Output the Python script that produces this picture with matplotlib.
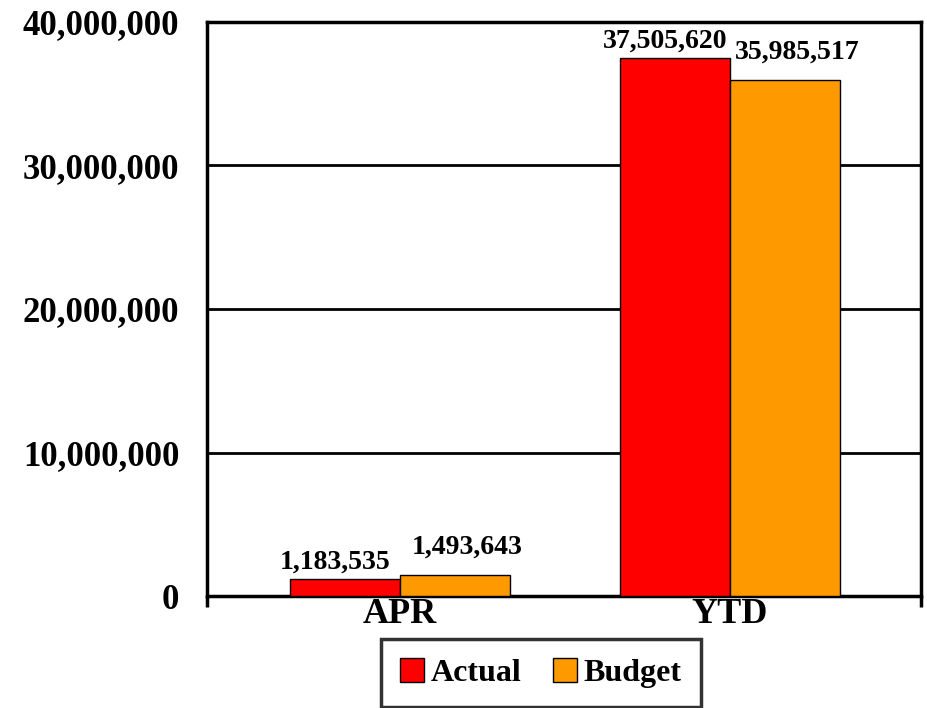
import matplotlib
matplotlib.use('Agg')
import matplotlib.pyplot as plt
import numpy as np

categories = ['APR', 'YTD']
actual = [1183535, 37505620]
budget = [1493643, 35985517]
yticks = [0, 10000000, 20000000, 30000000, 40000000]

plt.rcParams['font.family'] = ['Liberation Serif', 'DejaVu Serif']
plt.rcParams['font.weight'] = 'bold'

fig = plt.figure(figsize=(9.28, 7.08), dpi=100)
ax = fig.add_axes([0.223, 0.158, 0.7695, 0.811])

x = np.arange(len(categories))
w = 0.333
b1 = ax.bar(x - w / 2, actual, w, color='#FF0000', edgecolor='black', linewidth=1, label='Actual', zorder=3)
b2 = ax.bar(x + w / 2, budget, w, color='#FF9900', edgecolor='black', linewidth=1, label='Budget', zorder=3)

# labels above bars (excel staggers them a bit)
for xi, v in zip(x - w / 2, actual):
    ax.annotate(f'{v:,}', (xi, v), xytext=(-7, 3), textcoords='offset points',
                ha='center', va='bottom', fontsize=20, fontweight='bold')
for xi, v in zip(x + w / 2, budget):
    ax.annotate(f'{v:,}', (xi, v), xytext=(9, 11), textcoords='offset points',
                ha='center', va='bottom', fontsize=20, fontweight='bold')

ax.set_ylim(0, 40000000)
ax.set_xlim(-0.585, 1.579)
ax.set_yticks(yticks)
ax.set_yticklabels([f'{t:,}' for t in yticks], fontsize=25, fontweight='bold')
ax.tick_params(axis='y', length=0, pad=20)
ax.set_xticks(x)
ax.set_xticklabels(categories, fontsize=26, fontweight='bold')
ax.tick_params(axis='x', length=0, pad=1)
ax.set_xticks([-0.585, 1.579], minor=True)
ax.tick_params(axis='x', which='minor', length=8, width=2.5, color='black')

ax.grid(axis='y', color='black', linewidth=2, zorder=0)
for s in ax.spines.values():
    s.set_linewidth(2.5)
    s.set_color('black')

leg = fig.legend(handles=[b1, b2], loc='upper center', bbox_to_anchor=(0.583, 0.097),
                 ncol=2, frameon=True, fancybox=False, edgecolor='black',
                 handlelength=0.75, handleheight=0.75, handletextpad=0.2, columnspacing=1.0,
                 borderpad=0.6, borderaxespad=0, prop={'weight': 'bold', 'size': 23})
leg.get_frame().set_linewidth(2.5)

fig.savefig('out.png', dpi=100)
